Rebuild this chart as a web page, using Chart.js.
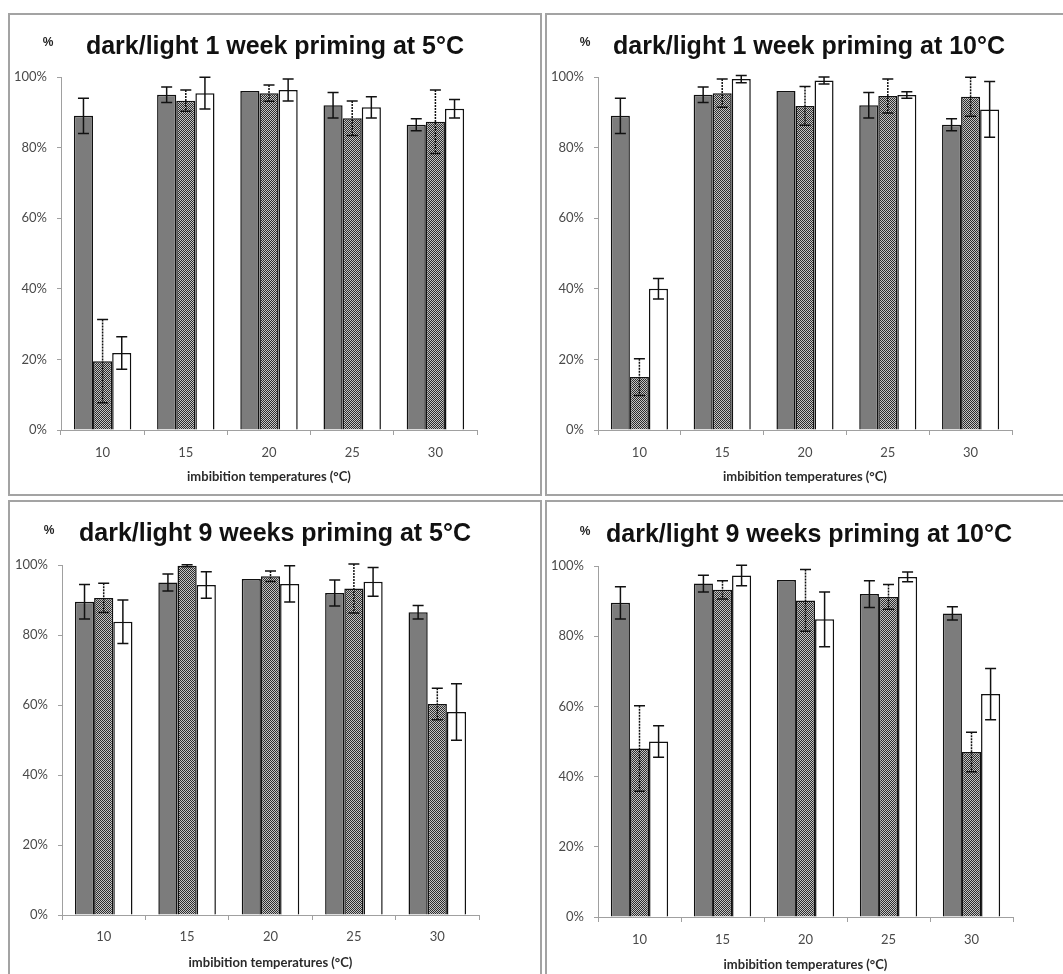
<!DOCTYPE html>
<html><head><meta charset="utf-8">
<script src="https://cdn.jsdelivr.net/npm/chart.js@4.4.1/dist/chart.umd.min.js"></script>
<style>
html,body{margin:0;padding:0;background:#fff;overflow:hidden;width:1063px;height:974px;}
.box{position:absolute;border:2px solid #a3a3a3;box-sizing:border-box;}
canvas{position:absolute;}
</style></head><body>
<div class="box" style="left:8px;top:13px;width:534px;height:483px"></div>
<div class="box" style="left:545px;top:13px;width:530px;height:483px"></div>
<div class="box" style="left:8px;top:500px;width:534px;height:495px"></div>
<div class="box" style="left:545px;top:500px;width:530px;height:495px"></div>
<canvas id="c1"></canvas><canvas id="c2"></canvas><canvas id="c3"></canvas><canvas id="c4"></canvas>
<script>
// ---- data ----
const categories = ['10', '15', '20', '25', '30'];
const xAxisTitle = 'imbibition temperatures (°C)';
const titles = [
  'dark/light 1 week priming at 5°C',
  'dark/light 1 week priming at 10°C',
  'dark/light 9 weeks priming at 5°C',
  'dark/light 9 weeks priming at 10°C'
];
// panel 1: 1 week 5°C
const p1Dark = [89, 95, 96, 92, 86.5];
const p1DarkErr = [5, 2.2, 0, 3.6, 1.7];
const p1Check = [19.5, 93.3, 95.4, 88.3, 87.3];
const p1CheckErr = [11.8, 3, 2.3, 4.9, 9];
const p1White = [21.8, 95.4, 96.3, 91.4, 91];
const p1WhiteErr = [4.6, 4.5, 3.1, 3, 2.6];
// panel 2: 1 week 10°C
const p2Dark = [89, 95, 96, 92, 86.5];
const p2DarkErr = [5, 2.2, 0, 3.6, 1.7];
const p2Check = [15, 95.4, 91.8, 94.6, 94.4];
const p2CheckErr = [5.2, 4, 5.5, 4.8, 5.5];
const p2White = [40, 99.4, 99, 94.9, 90.8];
const p2WhiteErr = [2.9, 1, 1, 0.9, 7.9];
// panel 3: 9 weeks 5°C
const p3Dark = [89.5, 95, 96, 92, 86.5];
const p3DarkErr = [4.9, 2.4, 0, 3.7, 1.9];
const p3Check = [90.6, 99.8, 96.8, 93.3, 60.3];
const p3CheckErr = [4.2, 0.3, 1.5, 7, 4.5];
const p3White = [83.8, 94.3, 94.6, 95.2, 58];
const p3WhiteErr = [6.2, 3.8, 5.2, 4.1, 8.1];
// panel 4: 9 weeks 10°C
const p4Dark = [89.5, 95, 96, 92, 86.5];
const p4DarkErr = [4.6, 2.4, 0, 3.8, 1.9];
const p4Check = [48, 93.2, 90.2, 91.2, 47];
const p4CheckErr = [12.2, 2.6, 8.8, 3.5, 5.6];
const p4White = [50, 97.3, 84.8, 96.9, 63.5];
const p4WhiteErr = [4.5, 2.9, 7.8, 1.4, 7.3];

// ---- styling helpers ----
function checkPattern() {
  const c = document.createElement('canvas'); c.width = 2; c.height = 2;
  const g = c.getContext('2d');
  g.fillStyle = '#c4c4c4'; g.fillRect(0, 0, 2, 2);
  g.fillStyle = '#2c2c2c'; g.fillRect(0, 0, 1, 1); g.fillRect(1, 1, 1, 1);
  return g.createPattern(c, 'repeat');
}
const PAT = checkPattern();

const errorBars = {
  id: 'errorBars',
  afterDatasetsDraw(chart) {
    const ctx = chart.ctx, ys = chart.scales.y;
    chart.data.datasets.forEach((ds, i) => {
      const meta = chart.getDatasetMeta(i);
      meta.data.forEach((bar, j) => {
        const v = ds.data[j], e = ds.errors[j];
        if (!e) return;
        const x = bar.x, yt = ys.getPixelForValue(v + e), yb = ys.getPixelForValue(v - e);
        ctx.save();
        ctx.strokeStyle = '#111'; ctx.lineWidth = 1.5;
        if (ds.dashedErr) ctx.setLineDash([2, 1]);
        ctx.beginPath(); ctx.moveTo(x, yt); ctx.lineTo(x, yb); ctx.stroke();
        ctx.setLineDash([]);
        ctx.beginPath();
        ctx.moveTo(x - 5.5, yt); ctx.lineTo(x + 5.5, yt);
        ctx.moveTo(x - 5.5, yb); ctx.lineTo(x + 5.5, yb);
        ctx.stroke();
        ctx.restore();
      });
    });
  }
};
const percentMark = {
  id: 'percentMark',
  afterDraw(chart) {
    const ctx = chart.ctx, a = chart.chartArea;
    ctx.save();
    ctx.font = 'bold 12px "Liberation Sans", Arial, sans-serif';
    ctx.fillStyle = '#222'; ctx.textAlign = 'center'; ctx.textBaseline = 'middle';
    ctx.fillText('%', a.left - 13, a.top - 34);
    ctx.restore();
  }
};

function makePanel(id, title, dark, darkErr, check, checkErr, white, whiteErr, geo) {
  const cv = document.getElementById(id);
  cv.width = geo.cw; cv.height = geo.ch;
  cv.style.left = geo.cx + 'px'; cv.style.top = geo.cy + 'px';
  cv.style.width = geo.cw + 'px'; cv.style.height = geo.ch + 'px';
  const tSize = 25, tLH = tSize * 1.2;
  const padTop = (geo.base - 9 - geo.cy) - tLH / 2;
  const padBot = (geo.t - geo.cy) - padTop - tLH;
  const xH = geo.cy + geo.ch - geo.b;
  const lblFont = { family: 'Lato, "Open Sans", sans-serif', size: 13 };
  new Chart(cv, {
    type: 'bar',
    data: {
      labels: categories,
      datasets: [
        { data: dark, errors: darkErr, backgroundColor: '#7c7c7c', borderColor: '#111', borderWidth: 1.5 },
        { data: check, errors: checkErr, backgroundColor: PAT, borderColor: '#111', borderWidth: 1.5, dashedErr: true },
        { data: white, errors: whiteErr, backgroundColor: '#ffffff', borderColor: '#111', borderWidth: 1.5 }
      ]
    },
    options: {
      responsive: false, animation: false, devicePixelRatio: 1,
      layout: { padding: 0 },
      datasets: { bar: { barPercentage: 1, categoryPercentage: 0.69 } },
      plugins: {
        legend: { display: false }, tooltip: { enabled: false },
        title: { display: true, text: title, color: '#111',
          font: { family: '"Liberation Sans", Arial, sans-serif', size: tSize, weight: 'bold', lineHeight: 1.2 },
          padding: { top: padTop, bottom: padBot } }
      },
      scales: {
        x: {
          grid: { display: true, drawOnChartArea: false, drawTicks: true, tickLength: 5, color: '#a0a0a0', offset: true },
          border: { display: true, color: '#a0a0a0', width: 1 },
          ticks: { color: '#4a4a4a', font: lblFont, padding: geo.xtp, maxRotation: 0 },
          title: { display: true, text: xAxisTitle, color: '#2a2a2a',
            font: { family: 'Lato, "Open Sans", sans-serif', size: 13, weight: 'bold', lineHeight: 1.2 },
            padding: { top: 0, bottom: xH - geo.xto - 7.8 } },
          afterFit: s => { s.height = xH; }
        },
        y: {
          min: 0, max: 100,
          grid: { display: true, drawOnChartArea: false, drawTicks: true, tickLength: 4, color: '#a0a0a0' },
          border: { display: true, color: '#a0a0a0', width: 1 },
          ticks: { stepSize: 20, color: '#4a4a4a', font: lblFont, padding: 10, callback: v => v + '%' },
          afterFit: s => { s.width = geo.l - geo.cx; }
        },
        yR: {
          type: 'linear', position: 'right', min: 0, max: 100, display: true,
          grid: { display: false }, border: { display: false }, ticks: { display: false },
          afterFit: s => { s.width = geo.cx + geo.cw - geo.r; }
        }
      }
    },
    plugins: [errorBars, percentMark]
  });
}

makePanel('c1', titles[0], p1Dark, p1DarkErr, p1Check, p1CheckErr, p1White, p1WhiteErr,
  { cx: 10, cy: 15, cw: 530, ch: 479, l: 61, t: 77, r: 477, b: 430, base: 56, xtp: 10, xto: 47 });
makePanel('c2', titles[1], p2Dark, p2DarkErr, p2Check, p2CheckErr, p2White, p2WhiteErr,
  { cx: 547, cy: 15, cw: 524, ch: 479, l: 598, t: 77, r: 1012, b: 430, base: 56, xtp: 10, xto: 47 });
makePanel('c3', titles[2], p3Dark, p3DarkErr, p3Check, p3CheckErr, p3White, p3WhiteErr,
  { cx: 10, cy: 502, cw: 530, ch: 479, l: 62, t: 565, r: 479, b: 915, base: 543, xtp: 9, xto: 48 });
makePanel('c4', titles[3], p4Dark, p4DarkErr, p4Check, p4CheckErr, p4White, p4WhiteErr,
  { cx: 547, cy: 502, cw: 524, ch: 479, l: 598, t: 566, r: 1013, b: 917, base: 544, xtp: 10, xto: 48 });
</script>
</body></html>
